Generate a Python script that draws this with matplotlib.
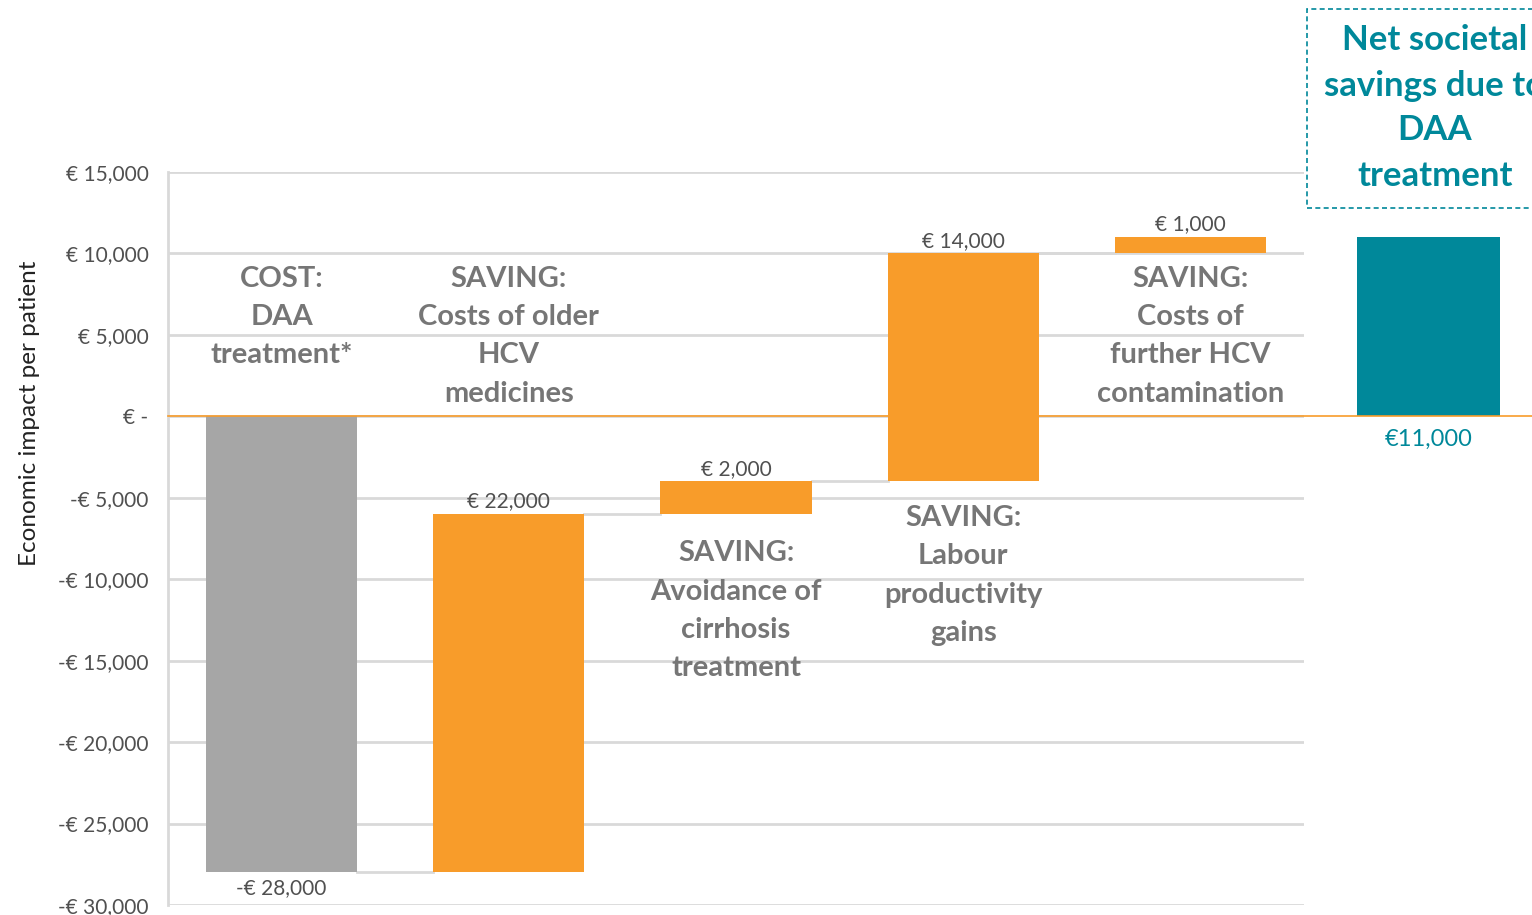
import matplotlib.pyplot as plt
from matplotlib.patches import Rectangle

# Data (euros per patient)
categories = ["COST:\nDAA\ntreatment*",
              "SAVING:\nCosts of older\nHCV\nmedicines",
              "SAVING:\nAvoidance of\ncirrhosis\ntreatment",
              "SAVING:\nLabour\nproductivity\ngains",
              "SAVING:\nCosts of\nfurther HCV\ncontamination"]
impacts = [-28000, 22000, 2000, 14000, 1000]
value_labels = ["-€ 28,000", "€ 22,000", "€ 2,000", "€ 14,000", "€ 1,000"]
net_value = 11000
net_label = "€11,000"
net_title = "Net societal\nsavings due to\nDAA\ntreatment"
yticks = [-30000, -25000, -20000, -15000, -10000, -5000, 0, 5000, 10000, 15000]

GRAY = "#a6a6a6"
ORANGE = "#f89c2a"
TEAL = "#00889a"
GRID = "#d9d9d9"
LABEL = "#767676"
TEXT = "#505050"

plt.rcParams['font.family'] = ['Lato', 'DejaVu Sans']

fig = plt.figure(figsize=(15.32, 9.15), dpi=100)
ax = fig.add_axes([168 / 1532, 1 - 905 / 915, (1304 - 168) / 1532, (905 - 172) / 915])

# waterfall
starts = []
running = 0
for v in impacts:
    starts.append(running)
    running += v
width = 0.665
for i, (s, v) in enumerate(zip(starts, impacts)):
    color = GRAY if i == 0 else ORANGE
    ax.bar(i, v, bottom=s, width=width, color=color, zorder=3)
    top = s + v
    if v < 0:
        ax.annotate(value_labels[i], (i, top), xytext=(0, -4), textcoords="offset points",
                    ha="center", va="top", fontsize=15, color=TEXT)
    else:
        ax.annotate(value_labels[i], (i, top), xytext=(0, 2), textcoords="offset points",
                    ha="center", va="bottom", fontsize=15, color=TEXT)
    # connector to next bar
    if i < len(impacts) - 1:
        ax.plot([i + width / 2, i + 1 - width / 2], [top, top], color=GRID, lw=2, zorder=2)

# net bar, outside the plotting frame
net_x = 5.048
ax.bar(net_x, net_value, width=0.63, color=TEAL, zorder=3, clip_on=False)
ax.annotate(net_label, (net_x, 0), xytext=(0, -9), textcoords="offset points",
            ha="center", va="top", fontsize=17, color=TEAL, annotation_clip=False)

# zero line
ax.plot([-0.5, 5.6], [0, 0], color=ORANGE, lw=1.2, zorder=4, clip_on=False)

# category labels
label_y = [9250, 9250, -7600, -5450, 9250]
for i, (c, y) in enumerate(zip(categories, label_y)):
    ax.text(i, y, c, ha="center", va="top", fontsize=21, fontweight="bold",
            color=LABEL, linespacing=1.59, zorder=5)

ax.set_xlim(-0.5, 4.5)
ax.set_ylim(-30000, 15000)
ax.set_xticks([])
ax.set_yticks(yticks)


def euro(v):
    if v == 0:
        return "€ -"
    if v < 0:
        return "-€ {:,}".format(-v)
    return "€ {:,}".format(v)


ax.set_yticklabels([euro(v) for v in yticks], fontsize=15, color=TEXT)
ax.tick_params(axis="y", length=0, pad=14)
ax.grid(axis="y", color=GRID, lw=2, zorder=0)
ax.set_axisbelow(True)
for s in ["top", "right", "bottom"]:
    ax.spines[s].set_visible(False)
ax.spines["left"].set_color(GRID)
ax.spines["left"].set_linewidth(2)
ax.set_ylabel("Economic impact per patient", fontsize=17.5, color="#222222")
ax.yaxis.set_label_coords(-0.113, (905 - 413) / 733)

# dashed title box for the net result
fig.patches.append(Rectangle((1307 / 1532, 1 - 208 / 915), (1540 - 1307) / 1532, (208 - 9) / 915,
                             transform=fig.transFigure, fill=False, edgecolor=TEAL,
                             linestyle=(0, (3, 2)), lw=1.2))
fig.text(1435 / 1532, 1 - 108 / 915, net_title, ha="center", va="center", fontsize=25,
         fontweight="bold", color=TEAL, linespacing=1.5)

fig.savefig("out.png", dpi=100)
